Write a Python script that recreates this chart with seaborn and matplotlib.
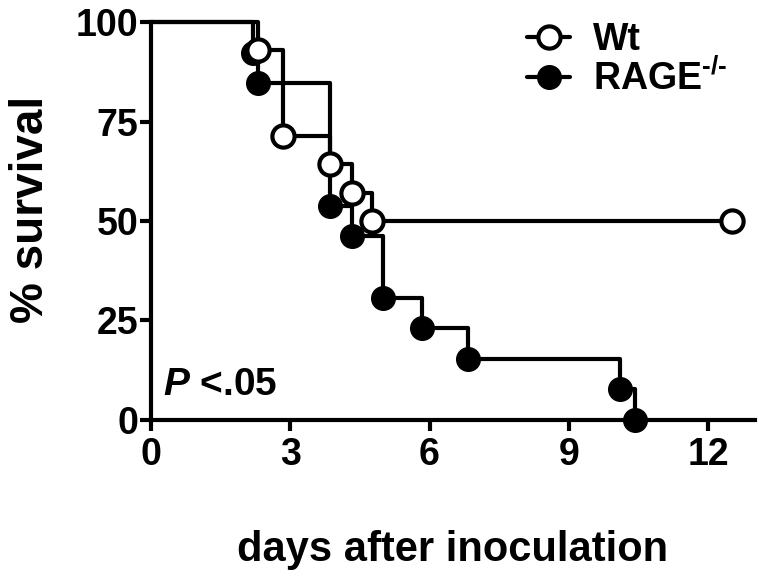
import matplotlib
matplotlib.use("Agg")
import matplotlib.pyplot as plt
import seaborn as sns
import pandas as pd
from matplotlib.lines import Line2D

# Kaplan-Meier step points
wt_days = [0, 2.3, 2.85, 3.85, 4.33, 4.77, 12.5]
wt_surv = [100, 92.86, 71.43, 64.29, 57.14, 50, 50]
rage_days = [0, 2.2, 2.3, 3.85, 4.33, 5.0, 5.83, 6.82, 10.09, 10.43]
rage_surv = [100, 92.31, 84.62, 53.85, 46.15, 30.77, 23.08, 15.38, 7.69, 0]

x_ticks = [0, 3, 6, 9, 12]
y_ticks = [0, 25, 50, 75, 100]

sns.set_style("ticks", rc={"axes.edgecolor": "black", "text.color": "black",
                           "axes.labelcolor": "black", "xtick.color": "black",
                           "ytick.color": "black"})
plt.rcParams['font.family'] = ['Liberation Sans', 'DejaVu Sans']
plt.rcParams['font.weight'] = 'bold'
plt.rcParams['mathtext.fontset'] = 'custom'
plt.rcParams['mathtext.rm'] = 'Liberation Sans:bold'
plt.rcParams['mathtext.bf'] = 'Liberation Sans:bold'
plt.rcParams['mathtext.it'] = 'Liberation Sans:italic:bold'

wt = pd.DataFrame({"days": wt_days, "surv": wt_surv})
rage = pd.DataFrame({"days": rage_days, "surv": rage_surv})

fig = plt.figure(figsize=(7.61, 5.75), dpi=100)
ax = fig.add_axes([0.198, 0.2696, 0.794, 0.6921])

lw = 3.0
for df in [rage, wt]:
    sns.lineplot(data=df, x="days", y="surv", ax=ax, color="black", lw=lw,
                 drawstyle="steps-post", estimator=None, sort=False,
                 clip_on=False)

ax.plot(rage["days"][1:], rage["surv"][1:], "o", ms=17, mfc="black",
        mec="black", mew=1, clip_on=False, zorder=5)
ax.plot(wt["days"][1:], wt["surv"][1:], "o", ms=16, mfc="white",
        mec="black", mew=3, clip_on=False, zorder=6)

ax.set_xlim(0, 13)
ax.set_ylim(0, 100)
ax.set_xticks(x_ticks)
ax.set_yticks(y_ticks)
ax.tick_params(width=3, length=8, labelsize=27)
ax.tick_params(axis="y", pad=1)
ax.tick_params(axis="x", pad=4)
for lab in ax.get_xticklabels() + ax.get_yticklabels():
    lab.set_fontweight("bold")
for s in ["left", "bottom"]:
    ax.spines[s].set_linewidth(3)
sns.despine(ax=ax)

ax.set_xlabel("days after inoculation", fontsize=30, fontweight="bold", labelpad=41)
ax.set_ylabel("% survival", fontsize=33, fontweight="bold", labelpad=16)
ax.yaxis.label.set_y(0.53)

ax.text(0.26, 6.2, r"$\mathit{P}$ <.05", fontsize=28, fontweight="bold",
        va="baseline")

handles = [
    Line2D([], [], color="black", lw=lw, marker="o", ms=16, mfc="white", mec="black", mew=3),
    Line2D([], [], color="black", lw=lw, marker="o", ms=17, mfc="black", mec="black", mew=1),
]
fig.legend(handles, ["Wt", "RAGE$^{\\mathrm{\u2010/\u2010}}$"], loc="upper left",
           bbox_to_anchor=(527 / 761, 0.962), frameon=False, borderpad=0,
           borderaxespad=0, handlelength=1.15, handletextpad=0.6,
           labelspacing=0.05, prop={"weight": "bold", "size": 27})

fig.savefig("out.png", dpi=100)
